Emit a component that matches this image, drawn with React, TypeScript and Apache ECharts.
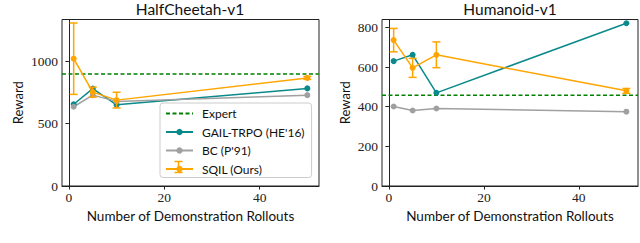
import React, { useEffect, useRef } from "react";
import * as echarts from "echarts";

const rollouts = [1, 5, 10, 50];
const xTicks = [0, 20, 40];

const cheetahExpert = 898;
const cheetahGail = [655, 780, 650, 782];
const cheetahBc = [635, 728, 678, 728];
const cheetahSqil = [1020, 752, 688, 866];
const cheetahSqilErr = [286, 40, 63, 12];
const cheetahTicks = [0, 500, 1000];

const humanoidExpert = 458;
const humanoidGail = [630, 662, 470, 821];
const humanoidBc = [401, 381, 391, 375];
const humanoidSqil = [736, 596, 662, 480];
const humanoidSqilErr = [59, 48, 65, 12];
const humanoidTicks = [0, 200, 400, 600, 800];

const titles = ["HalfCheetah-v1", "Humanoid-v1"];
const legendNames = ["Expert", "GAIL-TRPO (HE'16)", "BC (P'91)", "SQIL (Ours)"];

const X_MIN = -1.45;
const X_MAX = 52.45;

const C_GAIL = "#0a8a8a";
const C_BC = "#a0a0a0";
const C_SQIL = "#ffa500";
const C_EXP = "#008000";
const AX = "#222";
const SERIF = "Liberation Serif";
const SANS = "Lato";

function pairs(ys: number[]) {
  return rollouts.map((x, i) => [x, ys[i]]);
}

function errData(ys: number[], es: number[]) {
  return rollouts.map((x, i) => [x, ys[i] - es[i], ys[i] + es[i]]);
}

const errRender = (params: any, api: any) => {
  const x = api.value(0);
  const lo = api.coord([x, api.value(1)]);
  const hi = api.coord([x, api.value(2)]);
  const cw = 4;
  const st = { stroke: C_SQIL, lineWidth: 1.5 };
  return {
    type: "group",
    children: [
      { type: "line", shape: { x1: hi[0], y1: hi[1], x2: lo[0], y2: lo[1] }, style: st },
      { type: "line", shape: { x1: hi[0] - cw, y1: hi[1], x2: hi[0] + cw, y2: hi[1] }, style: st },
      { type: "line", shape: { x1: lo[0] - cw, y1: lo[1], x2: lo[0] + cw, y2: lo[1] }, style: st },
    ],
  };
};

function buildSeries(idx: number, expert: number, gail: number[], bc: number[], sqil: number[], err: number[]) {
  const common = { xAxisIndex: idx, yAxisIndex: idx, symbol: "circle", symbolSize: 6 };
  return [
    {
      name: legendNames[0],
      type: "line",
      xAxisIndex: idx,
      yAxisIndex: idx,
      data: [[X_MIN, expert], [X_MAX, expert]],
      symbol: "none",
      lineStyle: { color: C_EXP, width: 1.5, type: [4, 2.5] },
      itemStyle: { color: C_EXP },
      z: 2,
    },
    { ...common, name: legendNames[1], type: "line", data: pairs(gail), itemStyle: { color: C_GAIL }, lineStyle: { color: C_GAIL, width: 1.5 }, z: 3 },
    { ...common, name: legendNames[2], type: "line", data: pairs(bc), itemStyle: { color: C_BC }, lineStyle: { color: C_BC, width: 1.5 }, z: 3 },
    { ...common, name: legendNames[3], type: "line", data: pairs(sqil), itemStyle: { color: C_SQIL }, lineStyle: { color: C_SQIL, width: 1.5 }, z: 5 },
    {
      name: "sqil-err",
      type: "custom",
      xAxisIndex: idx,
      yAxisIndex: idx,
      data: errData(sqil, err),
      renderItem: errRender,
      z: 4,
      silent: true,
    },
  ];
}

const plainNum = (v: number) => String(v);

function xAxis(idx: number) {
  return {
    type: "value",
    gridIndex: idx,
    min: X_MIN,
    max: X_MAX,
    name: "Number of Demonstration Rollouts",
    nameLocation: "middle",
    nameGap: 22,
    nameTextStyle: { fontFamily: SANS, fontSize: 13.5, color: "#111" },
    splitLine: { show: false },
    axisLine: { show: true, onZero: false, lineStyle: { color: AX, width: 1 } },
    axisTick: { show: true, customValues: xTicks, length: 3.5, lineStyle: { color: AX } },
    axisLabel: { customValues: xTicks, formatter: plainNum, fontFamily: SERIF, fontSize: 13.5, color: "#222", margin: 4 },
  };
}

function yAxis(idx: number, max: number, ticks: number[], gap: number) {
  return {
    type: "value",
    gridIndex: idx,
    min: 0,
    max,
    name: "Reward",
    nameLocation: "middle",
    nameGap: gap,
    nameTextStyle: { fontFamily: SANS, fontSize: 13, color: "#111" },
    splitLine: { show: false },
    axisLine: { show: true, lineStyle: { color: AX, width: 1 } },
    axisTick: { show: true, customValues: ticks, length: 3.5, lineStyle: { color: AX } },
    axisLabel: { customValues: ticks, formatter: plainNum, fontFamily: SERIF, fontSize: 13.5, color: "#222", margin: 4 },
  };
}

export default function App() {
  const ref = useRef<HTMLDivElement>(null);
  useEffect(() => {
    if (!ref.current) return;
    const chart = echarts.init(ref.current, null, { renderer: "svg" });
    const titleStyle = { fontFamily: SANS, fontSize: 15.5, fontWeight: "normal", color: "#111" };
    chart.setOption({
      animation: false,
      backgroundColor: "#fff",
      title: [
        { text: titles[0], left: 190, top: 1, padding: 0, textAlign: "center", textStyle: titleStyle },
        { text: titles[1], left: 510, top: 1, padding: 0, textAlign: "center", textStyle: titleStyle },
      ],
      grid: [
        { left: 62, right: 321, top: 19.5, bottom: 57, show: true, borderColor: AX, borderWidth: 1, backgroundColor: "transparent" },
        { left: 382, right: 2, top: 19.5, bottom: 57, show: true, borderColor: AX, borderWidth: 1, backgroundColor: "transparent" },
      ],
      xAxis: [xAxis(0), xAxis(1)],
      yAxis: [yAxis(0, 1334, cheetahTicks, 38), yAxis(1, 840, humanoidTicks, 31)],
      legend: {
        data: [
          { name: legendNames[0], itemStyle: { color: "rgba(0,0,0,0)", borderWidth: 0 } },
          legendNames[1],
          legendNames[2],
          legendNames[3],
        ],
        orient: "vertical",
        left: 160,
        top: 103,
        padding: [3, 7, 1, 5],
        itemWidth: 27,
        itemHeight: 8,
        itemGap: 3.5,
        backgroundColor: "rgba(255,255,255,0.85)",
        borderColor: "#cccccc",
        borderWidth: 1,
        borderRadius: 3,
        textStyle: { fontFamily: SANS, fontSize: 12, color: "#111", lineHeight: 15, padding: [0, 0, 0, 4] },
      },
      graphic: [
        { type: "line", shape: { x1: 178.5, y1: 161.5, x2: 178.5, y2: 172.5 }, style: { stroke: C_SQIL, lineWidth: 1.5 }, z: 100 },
        { type: "line", shape: { x1: 174.5, y1: 161.5, x2: 182.5, y2: 161.5 }, style: { stroke: C_SQIL, lineWidth: 1.5 }, z: 100 },
        { type: "line", shape: { x1: 174.5, y1: 172.5, x2: 182.5, y2: 172.5 }, style: { stroke: C_SQIL, lineWidth: 1.5 }, z: 100 },
      ],
      series: [
        ...buildSeries(0, cheetahExpert, cheetahGail, cheetahBc, cheetahSqil, cheetahSqilErr),
        ...buildSeries(1, humanoidExpert, humanoidGail, humanoidBc, humanoidSqil, humanoidSqilErr),
      ],
    });
    return () => chart.dispose();
  }, []);
  return <div ref={ref} style={{ position: "fixed", left: 0, top: 0, width: 640, height: 243 }} />;
}
